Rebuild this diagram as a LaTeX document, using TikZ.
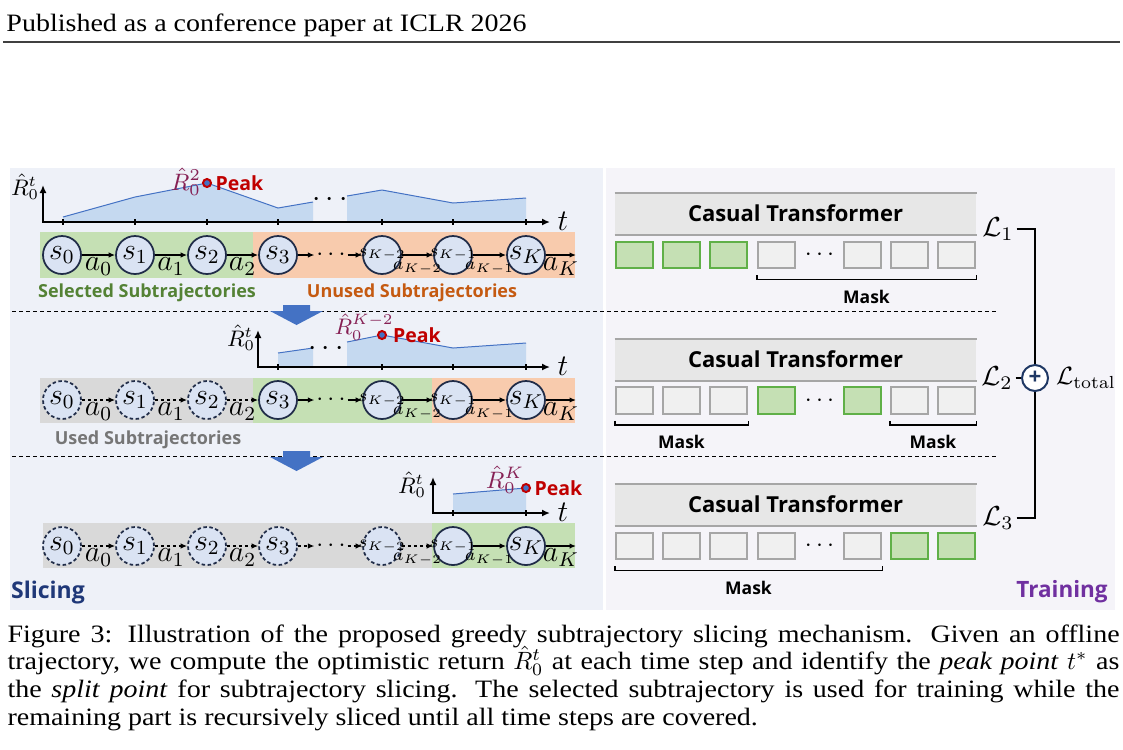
\RequirePackage{fix-cm}
\documentclass[tikz,border=0pt]{standalone}
\usepackage[no-math]{fontspec}
\setmainfont{Liberation Serif}[FakeStretch=1.12]
\newfontfamily\figsans{Open Sans}
\usetikzlibrary{arrows.meta}

\definecolor{slicebg}{RGB}{238,241,248}
\definecolor{trainbg}{RGB}{245,244,249}
\definecolor{bandgreen}{RGB}{197,224,180}
\definecolor{bandorange}{RGB}{248,203,173}
\definecolor{bandgray}{RGB}{217,217,217}
\definecolor{stfill}{RGB}{218,227,243}
\definecolor{stdraw}{RGB}{32,44,72}
\definecolor{areablue}{RGB}{197,217,240}
\definecolor{lineblue}{RGB}{68,114,196}
\definecolor{peakred}{RGB}{192,0,0}
\definecolor{rlabel}{RGB}{134,32,84}
\definecolor{selgreen}{RGB}{84,130,53}
\definecolor{unusedorange}{RGB}{197,90,17}
\definecolor{usedgray}{RGB}{118,118,118}
\definecolor{slicenavy}{RGB}{31,56,120}
\definecolor{trainpurple}{RGB}{112,48,160}
\definecolor{tfgray}{RGB}{231,231,231}
\definecolor{tfedge}{RGB}{166,166,166}
\definecolor{tokgreenfill}{RGB}{197,224,180}
\definecolor{tokgreendraw}{RGB}{96,176,72}
\definecolor{tokgrayfill}{RGB}{240,240,240}
\definecolor{sumnavy}{RGB}{31,56,100}

% state label that does not widen the circle
\newcommand{\stlab}[1]{\makebox[0pt]{$#1$}}

\tikzset{
  stnode/.style={circle, draw=stdraw, line width=0.7pt, fill=stfill, minimum size=15.2pt, inner sep=0pt, font=\fontsize{12}{12}\selectfont},
  oldst/.style={stnode, dash pattern=on 1.4pt off 1pt},
  smallst/.style={font=\fontsize{7}{7}\selectfont},
  tr/.style={-{Latex[length=2.6pt,width=2.2pt]}, line width=0.7pt},
  trd/.style={tr, dash pattern=on 1.4pt off 1pt},
  alab/.style={below, inner sep=0.8pt, font=\fontsize{12}{12}\selectfont},
  alabs/.style={alab, smallst, yshift=-1.8pt},
  gapdots/.style={inner sep=0.6pt, font=\fontsize{10}{10}\selectfont},
  pkmark/.style={circle, draw=peakred, fill=lineblue, line width=0.8pt, minimum size=3.2pt, inner sep=0pt},
  peaklbl/.style={anchor=west, inner sep=1.2pt, text=peakred, font=\figsans\bfseries\fontsize{7.8}{8}\selectfont},
  rlbl/.style={inner sep=0pt, text=rlabel, font=\fontsize{9.5}{10}\selectfont},
  axlbl/.style={inner sep=0pt, font=\fontsize{9}{10}\selectfont},
  axisln/.style={{Latex[length=3.2pt,width=2.8pt]}-{Latex[length=3.2pt,width=2.8pt]}, line width=0.7pt},
  ticks/.style={line width=0.5pt},
  areaf/.style={fill=areablue},
  curvel/.style={draw=lineblue, line width=0.4pt},
  sublbl/.style={inner sep=0pt, font=\figsans\bfseries\fontsize{7.2}{8}\selectfont},
  tfblk/.style={fill=tfgray, minimum width=144.4pt, minimum height=16.4pt, inner sep=0pt, font=\figsans\bfseries\fontsize{8.8}{10}\selectfont},
  tfline/.style={draw=tfedge, line width=0.8pt},
  tokg/.style={draw=tokgreendraw, fill=tokgreenfill, line width=0.8pt, minimum width=15pt, minimum height=10.6pt, inner sep=0pt},
  tokx/.style={tokg, draw=tfedge, fill=tokgrayfill},
  brk/.style={line width=0.6pt},
  masklbl/.style={inner sep=0pt, font=\figsans\bfseries\fontsize{7}{8}\selectfont},
  sepline/.style={dash pattern=on 1.6pt off 1.2pt, line width=0.4pt},
  bigarrow/.style={fill=lineblue},
  lossl/.style={inner sep=1pt, font=\fontsize{11}{11}\selectfont},
  lossln/.style={line width=0.8pt},
  sumc/.style={circle, draw=sumnavy, line width=0.8pt, fill=white, minimum size=10.4pt, inner sep=0pt, text=sumnavy, font=\figsans\bfseries\fontsize{9}{9}\selectfont},
  capline/.style={anchor=base west, inner sep=0pt, font=\fontsize{10}{11}\selectfont}
}

\begin{document}
\begin{tikzpicture}[x=0.4pt, y=-0.4pt]
\useasboundingbox (0,0) rectangle (1123,749);
\fill[white] (0,0) rectangle (1123,749);

% page header
\node[anchor=base west, inner sep=0pt, font=\fontsize{10}{12}\selectfont] (hdr) at (6,31) {Published as a conference paper at ICLR 2026};
\draw[line width=0.45pt, black!75] (3,42) -- (1120,42);

% panels
\fill[slicebg] (10,168) rectangle (603,610);
\fill[trainbg] (606,168) rectangle (1115,610);

% bands behind the trajectories
\fill[bandgreen] (40,232) rectangle (253,278);
\fill[bandorange] (253,232) rectangle (575,278);
\fill[bandgray] (40,378) rectangle (253,423);
\fill[bandgreen] (253,378) rectangle (432,423);
\fill[bandorange] (432,378) rectangle (575,423);
\fill[bandgray] (43,523) rectangle (432,568);
\fill[bandgreen] (432,523) rectangle (575,568);

% return curves
\fill[areaf] (63,222) -- (63,217) -- (135,197) -- (207,183) -- (278,208) -- (313,202) -- (313,222) -- cycle;
\fill[areaf] (347,222) -- (347,196) -- (382,190) -- (453,203) -- (526,198) -- (526,222) -- cycle;
\draw[curvel] (63,217) -- (135,197) -- (207,183) -- (278,208) -- (313,202);
\draw[curvel] (347,196) -- (382,190) -- (453,203) -- (526,198);
\fill[areaf] (278,367) -- (278,353) -- (313,348) -- (313,367) -- cycle;
\fill[areaf] (347,367) -- (347,342) -- (382,335) -- (453,348) -- (526,343) -- (526,367) -- cycle;
\draw[curvel] (278,353) -- (313,348);
\draw[curvel] (347,342) -- (382,335) -- (453,348) -- (526,343);
\fill[areaf] (453,513) -- (453,494) -- (526,488) -- (526,513) -- cycle;
\draw[curvel] (453,494) -- (526,488);

% axes
\draw[axisln] (43,185) |- (550,222);
\draw[axisln] (258,330) |- (550,367);
\draw[axisln] (433,477) |- (550,513);
\foreach \tx in {63,135,207,278,382,453,526} \draw[ticks] (\tx,219) -- (\tx,225);
\foreach \tx in {278,382,453,526} \draw[ticks] (\tx,364) -- (\tx,370);
\foreach \tx in {453,526} \draw[ticks] (\tx,510) -- (\tx,516);
\node[axlbl] (yA) at (25,187) {$\hat{R}_0^t$};
\node[axlbl] (yB) at (241,338) {$\hat{R}_0^t$};
\node[axlbl] (yC) at (412,485) {$\hat{R}_0^t$};
\node[alab, anchor=center] (xA) at (563,221) {$t$};
\node[alab, anchor=center] (xB) at (563,366) {$t$};
\node[alab, anchor=center] (xC) at (563,512) {$t$};
\node[gapdots, font=\fontsize{12}{12}\selectfont] (cgA) at (330,200) {$\cdots$};
\node[gapdots, font=\fontsize{12}{12}\selectfont] (cgB) at (326,349) {$\cdots$};

% peaks
\node[pkmark] (pkA) at (207,183) {};
\node[pkmark] (pkB) at (382,335) {};
\node[pkmark] (pkC) at (526,488) {};
\node[rlbl] (rA) at (186,182) {$\hat{R}_0^2$};
\node[rlbl, font=\fontsize{9}{9}\selectfont] (rB) at (364,327) {$\hat{R}_0^{K-2}$};
\node[rlbl] (rC) at (505,480) {$\hat{R}_0^K$};
\node[peaklbl] (pA) at (pkA.east) {Peak};
\node[peaklbl] (pB) at ([xshift=1pt]pkB.east) {Peak};
\node[peaklbl] (pC) at (pkC.east) {Peak};

% separators and slicing arrows
\draw[sepline] (12,311) -- (998,311);
\draw[sepline] (12,456) -- (998,456);
\foreach \yy in {305,451}
  \fill[bigarrow] (283,\yy) -- (310,\yy) -- (310,\yy+6) -- (323,\yy+6) -- (296.5,\yy+20) -- (270,\yy+6) -- (283,\yy+6) -- cycle;

% trajectory 1
\foreach \i/\cx in {0/62,1/135,2/207,3/278}
  \node[stnode] (sA\i) at (\cx,255) {\stlab{s_\i}};
\node[stnode, smallst] (sAk2) at (382,255) {\stlab{s_{K-2}}};
\node[stnode, smallst] (sAk1) at (453,255) {\stlab{s_{K-1}}};
\node[stnode] (sAk) at (526,255) {\stlab{s_K}};
\node[gapdots] (dA) at (331,255) {$\cdots$};
\coordinate (eA) at (576,255);
\foreach \i/\j in {0/1,1/2,2/3}
  \draw[tr] (sA\i) -- node[alab] {$a_\i$} (sA\j);
\draw[tr] (sA3) -- (dA);
\draw[tr] (dA) -- (sAk2);
\draw[tr] (sAk2) -- node[alabs] {$a_{K-2}$} (sAk1);
\draw[tr] (sAk1) -- node[alabs] {$a_{K-1}$} (sAk);
\draw[tr] (sAk) -- node[alab] {$a_K$} (eA);
\node[sublbl, text=selgreen] (selA) at (147,293) {Selected Subtrajectories};
\node[sublbl, text=unusedorange] (unA) at (412,293) {Unused Subtrajectories};

% trajectory 2
\foreach \i/\cx in {0/62,1/135,2/207}
  \node[oldst] (sB\i) at (\cx,400) {\stlab{s_\i}};
\node[stnode] (sB3) at (278,400) {\stlab{s_3}};
\node[stnode, smallst] (sBk2) at (382,400) {\stlab{s_{K-2}}};
\node[stnode, smallst] (sBk1) at (453,400) {\stlab{s_{K-1}}};
\node[stnode] (sBk) at (526,400) {\stlab{s_K}};
\node[gapdots] (dB) at (331,400) {$\cdots$};
\coordinate (eB) at (576,400);
\foreach \i/\j in {0/1,1/2,2/3}
  \draw[trd] (sB\i) -- node[alab] {$a_\i$} (sB\j);
\draw[tr] (sB3) -- (dB);
\draw[tr] (dB) -- (sBk2);
\draw[tr] (sBk2) -- node[alabs] {$a_{K-2}$} (sBk1);
\draw[tr] (sBk1) -- node[alabs] {$a_{K-1}$} (sBk);
\draw[tr] (sBk) -- node[alab] {$a_K$} (eB);
\node[sublbl, text=usedgray] (usB) at (148,440) {Used Subtrajectories};

% trajectory 3
\foreach \i/\cx in {0/62,1/135,2/207,3/278}
  \node[oldst] (sC\i) at (\cx,546) {\stlab{s_\i}};
\node[oldst, smallst] (sCk2) at (382,546) {\stlab{s_{K-2}}};
\node[stnode, smallst] (sCk1) at (453,546) {\stlab{s_{K-1}}};
\node[stnode] (sCk) at (526,546) {\stlab{s_K}};
\node[gapdots] (dC) at (331,546) {$\cdots$};
\coordinate (eC) at (576,546);
\foreach \i/\j in {0/1,1/2,2/3}
  \draw[trd] (sC\i) -- node[alab] {$a_\i$} (sC\j);
\draw[trd] (sC3) -- (dC);
\draw[trd] (dC) -- (sCk2);
\draw[trd] (sCk2) -- node[alabs] {$a_{K-2}$} (sCk1);
\draw[tr] (sCk1) -- node[alabs] {$a_{K-1}$} (sCk);
\draw[tr] (sCk) -- node[alab] {$a_K$} (eC);

\node[inner sep=0pt, text=slicenavy, font=\figsans\bfseries\fontsize{9.2}{10}\selectfont] (slc) at (48,593) {Slicing};

% transformers
\foreach \r/\by/\ty in {A/213.5/255,B/359.5/400.5,C/504.5/546} {
  \node[tfblk] (tf\r) at (795.5,\by) {Casual Transformer};
  \draw[tfline] (tf\r.north west) -- (tf\r.north east);
  \draw[tfline] (tf\r.south west) -- (tf\r.south east);
  \node[gapdots] (td\r) at (819.5,\ty) {$\cdots$};
}
\foreach \i/\cx/\st in {1/634.5/tokg,2/681.5/tokg,3/728.5/tokg,4/776.5/tokx,5/862.5/tokx,6/909.5/tokx,7/956.5/tokx}
  \node[\st] (tA\i) at (\cx,255) {};
\foreach \i/\cx/\st in {1/634.5/tokx,2/681.5/tokx,3/728.5/tokx,4/776.5/tokg,5/862.5/tokg,6/909.5/tokx,7/956.5/tokx}
  \node[\st] (tB\i) at (\cx,400.5) {};
\foreach \i/\cx/\st in {1/634.5/tokx,2/681.5/tokx,3/728.5/tokx,4/776.5/tokx,5/862.5/tokx,6/909.5/tokg,7/956.5/tokg}
  \node[\st] (tC\i) at (\cx,546) {};

% masks
\draw[brk] ([yshift=-2.4pt]tA4.south west) -- ++(0,4) -| node[masklbl, pos=0.25, below=4pt] (mkA) {Mask} ([yshift=-2.4pt]tA7.south east);
\draw[brk] ([yshift=-2.4pt]tB1.south west) -- ++(0,4) -| node[masklbl, pos=0.25, below=4pt] (mkB) {Mask} ([yshift=-2.4pt]tB3.south east);
\draw[brk] ([yshift=-2.4pt]tB6.south west) -- ++(0,4) -| node[masklbl, pos=0.25, below=4pt] (mkBb) {Mask} ([yshift=-2.4pt]tB7.south east);
\draw[brk] ([yshift=-2.4pt]tC1.south west) -- ++(0,4) -| node[masklbl, pos=0.25, below=4pt] (mkC) {Mask} ([yshift=-2.4pt]tC5.south east);

% losses
\node[lossl] (lA) at (998,229) {$\mathcal{L}_1$};
\node[lossl] (lB) at (997,378) {$\mathcal{L}_2$};
\node[lossl] (lC) at (998,518) {$\mathcal{L}_3$};
\node[sumc] (sumL) at (1035,378) {+};
\node[lossl, font=\fontsize{10}{10}\selectfont] (ltot) at (1086,378) {$\mathcal{L}_{\mathrm{total}}$};
\draw[lossln] (lA) -| (sumL);
\draw[lossln] (lB) -- (sumL);
\draw[lossln] (lC) -| (sumL);
\node[inner sep=0pt, text=trainpurple, font=\figsans\bfseries\fontsize{9}{10}\selectfont] (trn) at (1062,592) {Training};

% caption
\node[capline] (capA) at (7,642) {\makebox[444.8pt][s]{Figure 3: Illustration of the proposed greedy subtrajectory slicing mechanism. Given an offline}};
\node[capline] (capB) at (7,669.7) {\makebox[444.8pt][s]{trajectory, we compute the optimistic return $\hat{R}_0^t$ at each time step and identify the \textit{peak point} $t^*$ as}};
\node[capline] (capC) at (7,697.4) {\makebox[444.8pt][s]{the \textit{split point} for subtrajectory slicing. The selected subtrajectory is used for training while the}};
\node[capline] (capD) at (7,725) {remaining part is recursively sliced until all time steps are covered.};
\end{tikzpicture}
\end{document}
